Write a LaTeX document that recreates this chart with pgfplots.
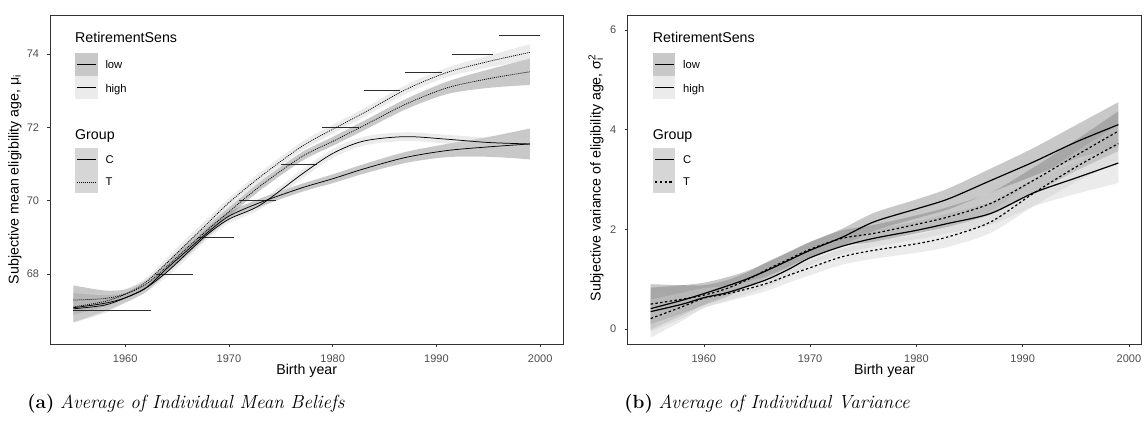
\documentclass[border=0pt]{standalone}
\usepackage{fontspec}
\usepackage{pgfplots}
\pgfplotsset{compat=1.18}
\usepackage{pgfplotstable}
\usepgfplotslibrary{fillbetween}
\newfontfamily\arial{Liberation Sans}
\definecolor{tickgray}{RGB}{77,77,77}
\definecolor{framegray}{RGB}{51,51,51}
\definecolor{darkfill}{RGB}{118,118,118}
\definecolor{lightfill}{RGB}{205,205,205}
\definecolor{keylow}{RGB}{200,200,200}
\definecolor{keyhigh}{RGB}{235,235,235}
\definecolor{keygrp}{RGB}{214,214,214}
\definecolor{segcol}{RGB}{45,45,45}

% ---------- left panel: mean beliefs ----------
\pgfplotstableread{
x y h
1955 67.08 0.40
1958 67.20 0.22
1960 67.35 0.13
1962 67.62 0.11
1964 68.15 0.12
1966 68.65 0.14
1968 69.15 0.12
1970 69.58 0.11
1973 69.95 0.11
1977 70.35 0.11
1980 70.60 0.12
1983 70.87 0.13
1987 71.18 0.15
1991 71.37 0.18
1995 71.47 0.27
1999 71.55 0.42
}\CL
\pgfplotstableread{
x y h
1955 67.05 0.38
1958 67.15 0.22
1960 67.35 0.13
1962 67.62 0.11
1964 68.05 0.13
1966 68.58 0.15
1968 69.10 0.13
1970 69.50 0.11
1973 69.88 0.11
1977 70.72 0.12
1980 71.29 0.12
1983 71.63 0.12
1987 71.75 0.12
1991 71.68 0.12
1995 71.59 0.13
1999 71.55 0.16
}\CH
\pgfplotstableread{
x y h
1955 67.10 0.38
1958 67.25 0.22
1960 67.45 0.13
1962 67.78 0.11
1964 68.30 0.13
1966 68.85 0.15
1968 69.40 0.13
1970 69.95 0.12
1973 70.65 0.12
1977 71.48 0.12
1980 71.95 0.12
1983 72.40 0.12
1987 73.03 0.12
1991 73.50 0.13
1995 73.80 0.16
1999 74.05 0.22
}\TH
\pgfplotstableread{
x y h
1955 67.29 0.40
1958 67.33 0.22
1960 67.45 0.13
1962 67.72 0.11
1964 68.20 0.13
1966 68.72 0.15
1968 69.22 0.13
1970 69.70 0.12
1973 70.40 0.12
1977 71.20 0.12
1980 71.62 0.12
1983 72.05 0.13
1987 72.63 0.14
1991 73.08 0.17
1995 73.33 0.25
1999 73.52 0.36
}\TL
\pgfplotstableread{
x y
1955 67
1962.5 67
1962.7 nan
1963 68
1966.5 68
1966.7 nan
1967 69
1970.5 69
1970.7 nan
1971 70
1974.5 70
1974.7 nan
1975 71
1978.5 71
1978.7 nan
1979 72
1982.5 72
1982.7 nan
1983 73
1986.5 73
1986.7 nan
1987 73.5
1990.5 73.5
1990.7 nan
1991.5 74
1995.5 74
1995.7 nan
1996 74.5
2000 74.5
}\SEG

% ---------- right panel: variance ----------
\pgfplotstableread{
x y h
1955 0.41 0.42
1958 0.58 0.30
1960 0.71 0.22
1962 0.85 0.18
1964 1.00 0.16
1966 1.18 0.16
1968 1.38 0.16
1970 1.58 0.16
1973 1.84 0.17
1976 2.15 0.18
1980 2.41 0.19
1983 2.61 0.21
1987 2.98 0.24
1991 3.35 0.28
1995 3.75 0.34
1999 4.10 0.45
}\RCL
\pgfplotstableread{
x y h
1955 0.35 0.40
1958 0.50 0.28
1960 0.63 0.20
1962 0.72 0.16
1964 0.85 0.15
1966 1.00 0.15
1968 1.20 0.15
1970 1.43 0.15
1973 1.66 0.16
1976 1.82 0.17
1980 1.98 0.18
1983 2.12 0.20
1987 2.32 0.23
1991 2.73 0.27
1995 3.03 0.32
1999 3.33 0.40
}\RCH
\pgfplotstableread{
x y h
1955 0.50 0.40
1958 0.60 0.28
1960 0.68 0.20
1962 0.80 0.17
1964 0.98 0.15
1966 1.20 0.15
1968 1.40 0.15
1970 1.60 0.15
1973 1.82 0.16
1976 1.92 0.17
1980 2.10 0.18
1983 2.25 0.20
1987 2.52 0.22
1991 2.98 0.26
1995 3.48 0.31
1999 3.97 0.40
}\RTL
\pgfplotstableread{
x y h
1955 0.21 0.38
1958 0.45 0.28
1960 0.62 0.20
1962 0.70 0.16
1964 0.80 0.15
1966 0.92 0.15
1968 1.08 0.15
1970 1.23 0.15
1973 1.45 0.16
1976 1.58 0.17
1980 1.71 0.18
1983 1.85 0.20
1987 2.15 0.22
1991 2.72 0.26
1995 3.25 0.30
1999 3.72 0.38
}\RTH

\newcommand{\band}[4]{%
  \addplot[name path=#4u, draw=none, smooth, forget plot] table[x=x, y expr=\thisrow{y}+\thisrow{h}] {#1};
  \addplot[name path=#4l, draw=none, smooth, forget plot] table[x=x, y expr=\thisrow{y}-\thisrow{h}] {#1};
  \addplot[fill=#2, fill opacity=0.4, draw=none, forget plot] fill between[of=#4u and #4l];
  \addplot[#3, smooth, forget plot] table[x=x, y=y] {#1};
}

\newcommand{\mylegend}[3]{%
  \begin{scope}[xshift=#1pt]
    \node[anchor=base west, inner sep=0, font=\arial\fontsize{14.2}{16}\selectfont] at (75,382) {RetirementSens};
    \fill[keylow] (75,349) rectangle (97.7,372.3);
    \fill[keyhigh] (75,326.3) rectangle (97.7,349);
    \draw[black, line width=#2] (77.3,360.7) -- (96,360.7);
    \draw[black, line width=#2] (77.3,337.7) -- (96,337.7);
    \node[anchor=base west, inner sep=0, font=\arial\fontsize{11.2}{13}\selectfont] at (105.3,356) {low};
    \node[anchor=base west, inner sep=0, font=\arial\fontsize{11.2}{13}\selectfont] at (105.3,332.7) {high};
    \node[anchor=base west, inner sep=0, font=\arial\fontsize{14.2}{16}\selectfont] at (75,285.7) {Group};
    \fill[keygrp] (75,231.7) rectangle (97.7,276.7);
    \draw[black, line width=#2] (77.3,265.3) -- (96,265.3);
    \draw[black, line width=#2, #3] (77.3,243) -- (96,243);
    \node[anchor=base west, inner sep=0, font=\arial\fontsize{11.2}{13}\selectfont] at (105.3,261) {C};
    \node[anchor=base west, inner sep=0, font=\arial\fontsize{11.2}{13}\selectfont] at (105.3,239) {T};
  \end{scope}}

\pgfplotsset{ggpanel/.style={
  scale only axis, anchor=south west,
  axis line style={framegray, line width=0.6pt},
  tick align=outside, tick pos=left, major tick length=2.75pt,
  tick style={framegray, line width=0.6pt},
  ticklabel style={font=\arial\fontsize{11}{13}\selectfont, text=tickgray, inner sep=0pt},
  xticklabel style={anchor=base, yshift=-15.3pt},
  yticklabel style={anchor=east, xshift=-8pt},
  unbounded coords=jump,
}}

\begin{document}
\begin{tikzpicture}[x=1pt, y=1pt]
\path (0,0) rectangle (1145,425);

% ---- panel (a)
\begin{axis}[ggpanel, at={(50pt,81pt)}, width=513.5pt, height=329pt,
  xmin=1952.75, xmax=2002.25, ymin=66.09, ymax=75.07,
  xtick={1960,1970,1980,1990,2000}, xticklabels={1960,1970,1980,1990,2000},
  ytick={68,70,72,74}, yticklabels={68,70,72,74}]
  \addplot[segcol, line width=0.8pt, forget plot] table[x=x,y=y] {\SEG};
  \band{\CL}{darkfill}{black, line width=0.75pt}{cl}
  \band{\CH}{lightfill}{black, line width=0.75pt}{ch}
  \band{\TL}{darkfill}{black, line width=0.75pt, dash pattern=on 1pt off 1pt}{tl}
  \band{\TH}{lightfill}{black, line width=0.75pt, dash pattern=on 1pt off 1pt}{th}
\end{axis}

% ---- panel (b)
\begin{axis}[ggpanel, at={(627.3pt,81pt)}, width=514.4pt, height=329pt,
  xmin=1952.8, xmax=2001.2, ymin=-0.3, ymax=6.3,
  xtick={1960,1970,1980,1990,2000}, xticklabels={1960,1970,1980,1990,2000},
  ytick={0,2,4,6}, yticklabels={0,2,4,6}]
  \band{\RCL}{darkfill}{black, line width=1.2pt}{rcl}
  \band{\RCH}{lightfill}{black, line width=1.2pt}{rch}
  \band{\RTL}{darkfill}{black, line width=1.2pt, dash pattern=on 2.4pt off 2.4pt}{rtl}
  \band{\RTH}{lightfill}{black, line width=1.2pt, dash pattern=on 2.4pt off 2.4pt}{rth}
\end{axis}

\mylegend{0}{0.75pt}{dash pattern=on 1pt off 1pt}
\mylegend{577.7}{1.2pt}{dash pattern=on 2.4pt off 2.4pt}

% axis titles
\node[anchor=base, inner sep=0, font=\arial\fontsize{14.2}{16}\selectfont] at (306.75,50) {Birth year};
\node[anchor=base, inner sep=0, font=\arial\fontsize{14.2}{16}\selectfont] at (884.5,50) {Birth year};
\node[rotate=90, anchor=base, inner sep=0, font=\arial\fontsize{14.2}{16}\selectfont] at (18.5,245.5) {Subjective mean eligibility age, μ\textsubscript{i}};
\node[rotate=90, anchor=base, inner sep=0, font=\arial\fontsize{14.2}{16}\selectfont] at (600.5,245.5) {Subjective variance of eligibility age, σ\rlap{\textsuperscript{2}}\textsubscript{i}};

% captions
\node[anchor=base, inner sep=0, font=\fontsize{19}{23}\selectfont] at (186,16) {\textbf{(a)} \textit{Average of Individual Mean Beliefs}};
\node[anchor=base, inner sep=0, font=\fontsize{19}{23}\selectfont] at (767,16) {\textbf{(b)} \textit{Average of Individual Variance}};
\end{tikzpicture}
\end{document}
